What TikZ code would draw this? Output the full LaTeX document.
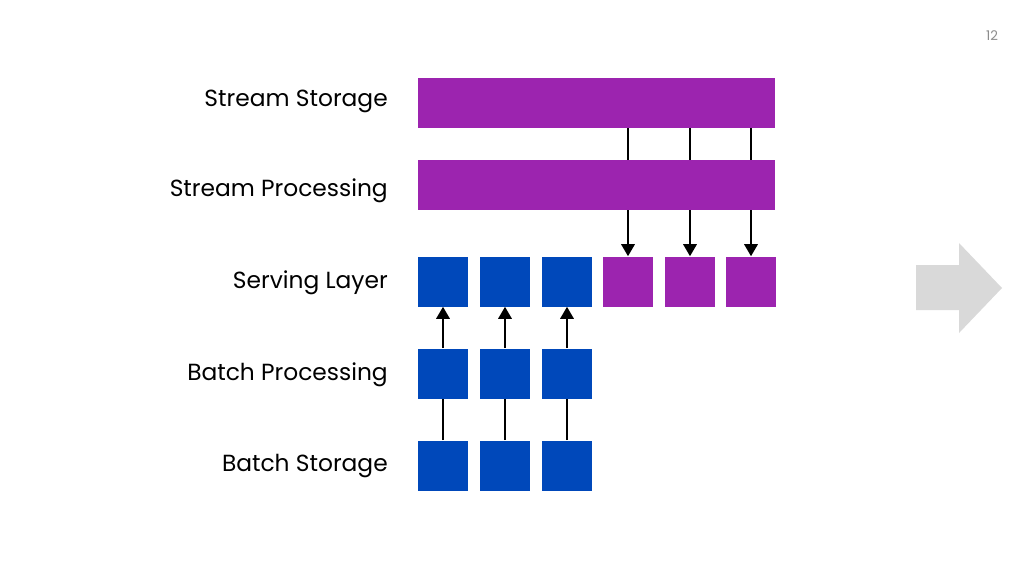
\documentclass[tikz,border=0pt]{standalone}
\usepackage{fontspec}
\setmainfont{Poppins}
\usetikzlibrary{arrows.meta}
\usetikzlibrary{positioning}
\definecolor{streampurple}{RGB}{156,36,175}
\definecolor{batchblue}{RGB}{0,72,186}
\definecolor{shadegrey}{RGB}{217,217,217}
\definecolor{pagegrey}{RGB}{140,140,140}
\tikzset{
    bar/.style={fill=streampurple, inner sep=0pt, minimum width=267.75pt, minimum height=37.5pt},
    cell/.style={inner sep=0pt, minimum size=37.5pt},
    layerlabel/.style={anchor=east, inner sep=0pt, font=\fontsize{17.5}{21}\selectfont},
    link/.style={line width=1.6pt, black},
    linkhead/.style={link, -{Triangle[width=10pt, length=9pt]}}
}

\begin{document}
\begin{tikzpicture}[x=0.75pt, y=-0.75pt]
    \useasboundingbox (0,0) rectangle (1024,576);
    % labels
    \node[layerlabel] (lss) at (388,101) {Stream Storage};
    \node[layerlabel] (lsp) at (388,191) {Stream Processing};
    \node[layerlabel] (lsl) at (388,283) {Serving Layer};
    \node[layerlabel] (lbp) at (388,375) {Batch Processing};
    \node[layerlabel] (lbs) at (388,466) {Batch Storage};
    % stream bars
    \node[bar] (ss) at (596.5,103) {};
    \node[bar] (sp) at (596.5,185) {};
    % serving cells
    \foreach \i/\x/\c in {1/443/batchblue,2/505/batchblue,3/567/batchblue,4/628/streampurple,5/690/streampurple,6/751/streampurple}
        \node[cell, fill=\c] (sv\i) at (\x,281.5) {};
    % batch cells
    \foreach \i/\x in {1/443,2/505,3/567} {
        \node[cell, fill=batchblue] (bp\i) at (\x,373.5) {};
        \node[cell, fill=batchblue] (bs\i) at (\x,465.5) {};
    }
    % connectors
    \foreach \i in {1,2,3} {
        \draw[link] (bs\i.north) -- (bp\i.south);
        \draw[linkhead] (bp\i.north) -- (sv\i.south);
    }
    \foreach \i in {4,5,6} {
        \draw[link] (ss.south -| sv\i) -- (sp.north -| sv\i);
        \draw[linkhead] (sp.south -| sv\i) -- (sv\i.north);
    }
    % next-slide arrow
    \fill[shadegrey] (916,265) -- (959,265) -- (959,243) -- (1002,288) -- (959,333) -- (959,310) -- (916,310) -- cycle;
    \node[pagegrey, font=\fontsize{10}{12}\selectfont] (page) at (992,36) {12};
\end{tikzpicture}
\end{document}
